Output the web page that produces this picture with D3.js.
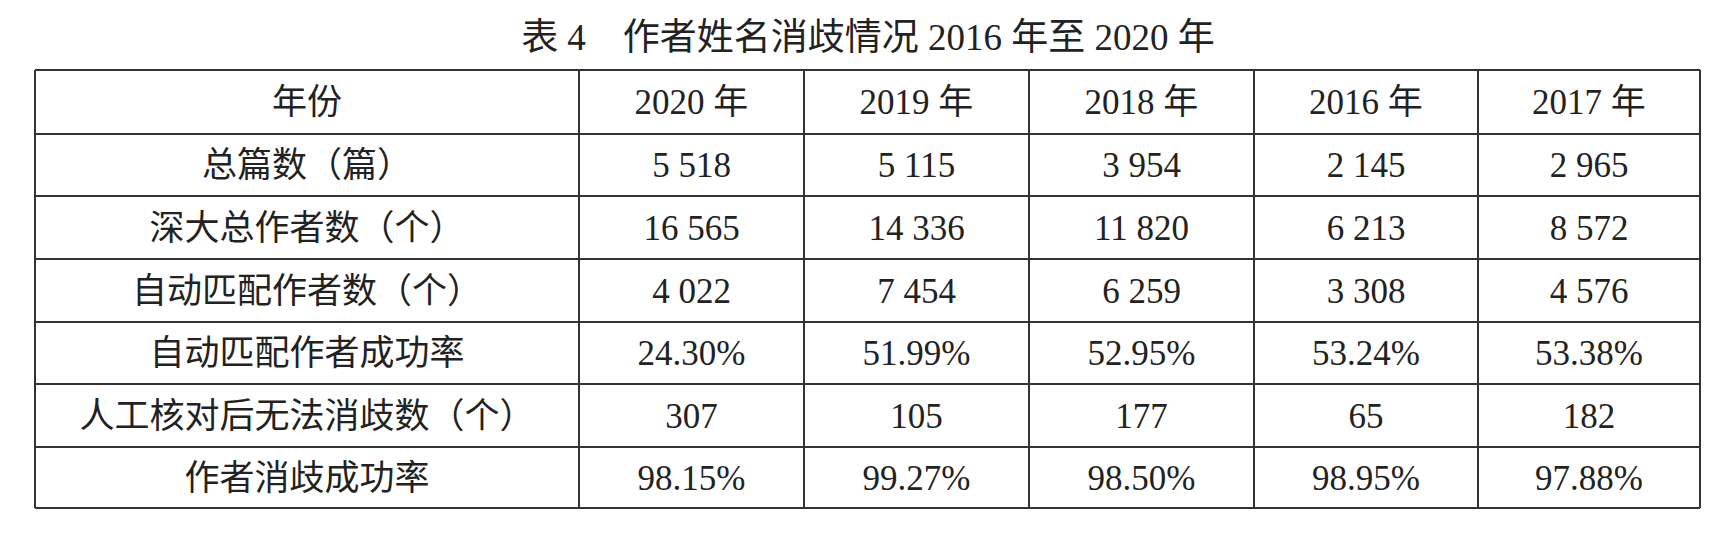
<!DOCTYPE html>
<html><head><meta charset="utf-8">
<script src="https://cdn.jsdelivr.net/npm/d3@7"></script>
<style>body{margin:0;background:#fff}</style></head>
<body><svg id="c" width="1722" height="538"></svg>
<script>
const title = "表 4　作者姓名消歧情况 2016 年至 2020 年";
const header = ["年份", "2020 年", "2019 年", "2018 年", "2016 年", "2017 年"];
const rowLabels = ["总篇数（篇）", "深大总作者数（个）", "自动匹配作者数（个）", "自动匹配作者成功率", "人工核对后无法消歧数（个）", "作者消歧成功率"];
const y2020 = ["5 518", "16 565", "4 022", "24.30%", "307", "98.15%"];
const y2019 = ["5 115", "14 336", "7 454", "51.99%", "105", "99.27%"];
const y2018 = ["3 954", "11 820", "6 259", "52.95%", "177", "98.50%"];
const y2016 = ["2 145", "6 213", "3 308", "53.24%", "65", "98.95%"];
const y2017 = ["2 965", "8 572", "4 576", "53.38%", "182", "97.88%"];

const svg = d3.select("#c");
const font = "'Liberation Serif','Noto Sans CJK SC',serif";
const colEdges = [35, 579, 804, 1029, 1254, 1478, 1700];
const rowEdges = [70, 134, 196, 259, 322, 384, 447, 508];
const cols = [rowLabels, y2020, y2019, y2018, y2016, y2017];
const rows = [header].concat(rowLabels.map((r, i) => cols.map(c => c[i])));

svg.append("text").attr("x", 868).attr("y", 50).attr("text-anchor", "middle")
  .attr("font-family", font).attr("font-size", 37).attr("fill", "#222").text(title);

const g = svg.append("g");
rows.forEach((r, i) => r.forEach((t, j) => {
  const cx = (colEdges[j] + colEdges[j + 1]) / 2, cy = (rowEdges[i] + rowEdges[i + 1]) / 2;
  g.append("text").attr("x", cx).attr("y", cy + 12).attr("text-anchor", "middle")
    .attr("font-family", font).attr("font-size", j === 0 ? 35 : 35).attr("fill", "#222").text(t);
}));
rowEdges.forEach(v => g.append("line").attr("x1", 35).attr("x2", 1700).attr("y1", v).attr("y2", v)
  .attr("stroke", "#333").attr("stroke-width", 2));
colEdges.forEach(v => g.append("line").attr("x1", v).attr("x2", v).attr("y1", 70).attr("y2", 508)
  .attr("stroke", "#333").attr("stroke-width", 2));
</script></body></html>
